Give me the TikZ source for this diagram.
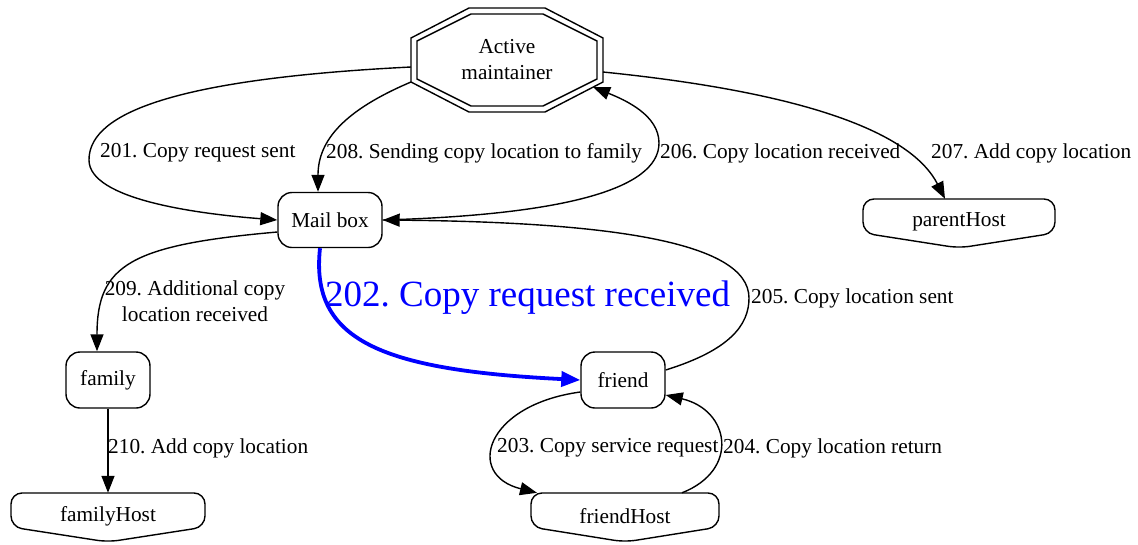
\documentclass[tikz,border=0pt]{standalone}
\usepackage{fontspec}
\setmainfont{Liberation Serif}
\usepackage{xcolor}
\usepackage{tikz}
\usetikzlibrary{arrows.meta,calc,positioning}
\definecolor{LinkBlue}{HTML}{0000FF}
\frenchspacing

% host box: flat top, point at the bottom
\newcommand{\hostshape}[2]{%
  \draw[rounded corners=11pt,line width=1.4pt]
    ($(#1)+(-#2,-23)$) -- ($(#1)+(#2,-23)$) -- ($(#1)+(#2,11)$)
    -- ($(#1)+(0,26)$) -- ($(#1)+(-#2,11)$) -- cycle;}

\begin{document}
\begin{tikzpicture}[
  x=1pt,
  y=-1pt,
  every node/.style={font=\fontsize{21.3}{26}\selectfont},
  roundbox/.style={draw,rounded corners=14pt,line width=1.4pt,minimum height=56pt,inner sep=0pt},
  host/.style={minimum width=190pt,minimum height=46pt,inner sep=0pt},
  link/.style={line width=1.4pt,-{Triangle[length=17pt,width=13pt]}},
  hot/.style={LinkBlue,line width=3.8pt,-{Triangle[length=19pt,width=15pt]}},
  lbl/.style={anchor=west,inner sep=0pt}
]
  \useasboundingbox (0,0) rectangle (1138,544);

  % Nodes
  \node[align=center,inner sep=0pt] (am) at (507,60) {Active\\maintainer};
  \foreach \w/\h/\s/\t in {96/52/38/22,90/46/36/19}
    \draw[line width=1.4pt] ($(am)+(-\s,-\h)$) -- ($(am)+(\s,-\h)$) -- ($(am)+(\w,-\t)$)
      -- ($(am)+(\w,\t)$) -- ($(am)+(\s,\h)$) -- ($(am)+(-\s,\h)$)
      -- ($(am)+(-\w,\t)$) -- ($(am)+(-\w,-\t)$) -- cycle;
  \node[roundbox,minimum width=104pt,minimum height=55pt] (mb) at (330,220) {Mail box};
  \node[roundbox,minimum width=84pt] (fam) at (108,380) {family};
  \node[roundbox,minimum width=84pt] (fr) at (623,380) {friend};
  \node[host] (ph) at (959,222) {parentHost};
  \hostshape{ph}{96}
  \node[host] (fh) at (108,516) {familyHost};
  \hostshape{fh}{97}
  \node[host] (frh) at (625,516) {friendHost};
  \hostshape{frh}{94}

  % Edges
  \draw[link] ($(am)+(-96,7)$) .. controls (150,80) and (89,120) .. (89,160)
    .. controls (89,200) and (200,214) .. (mb.west);
  \draw[link] ($(am)+(-96,22)$) .. controls (345,110) and (318,140) .. ([xshift=-12pt]mb.north);
  \draw[link] (mb.east) .. controls (560,215) and (659,190) .. (659,143)
    .. controls (659,115) and (625,100) .. ($(am)+(86,27)$);
  \draw[link] ($(am)+(96,12)$) .. controls (830,95) and (915,140) .. ([xshift=-14pt]ph.north);
  \draw[link] ([yshift=-12pt]mb.west) .. controls (130,245) and (97,265) .. ([xshift=-11pt]fam.north);
  \draw[hot] ([xshift=-10pt]mb.south) .. controls (310,340) and (380,370) .. (fr.west);
  \draw[link] ([yshift=10pt]fr.east) .. controls (730,350) and (749,325) .. (749,298)
    .. controls (749,240) and (600,222) .. (mb.east);
  \draw[link] (fam.south) -- (fh.north);
  \draw[link] ([yshift=-12pt]fr.west) .. controls (485,405) and (465,475) .. ([xshift=-88pt]frh.north);
  \draw[link] ([xshift=57pt]frh.north) .. controls (740,470) and (730,410) .. ([yshift=-15pt]fr.east);

  % Labels
  \node[lbl] (l201) at (100,153) {201. Copy request sent};
  \node[lbl] (l208) at (326,153) {208. Sending copy location to family};
  \node[lbl] (l206) at (660,153) {206. Copy location received};
  \node[lbl] (l207) at (931,153) {207. Add copy location};
  \node[align=center,inner sep=0pt] (l209) at (195,301) {209. Additional copy\\location received};
  \node[lbl,text=LinkBlue,font=\fontsize{37}{40}\selectfont] (l202) at (325,298) {202. Copy request received};
  \node[lbl] (l205) at (751,298) {205. Copy location sent};
  \node[lbl] (l210) at (108,448) {210. Add copy location};
  \node[lbl] (l203) at (497,448) {203. Copy service request};
  \node[lbl] (l204) at (723,448) {204. Copy location return};
\end{tikzpicture}
\end{document}
